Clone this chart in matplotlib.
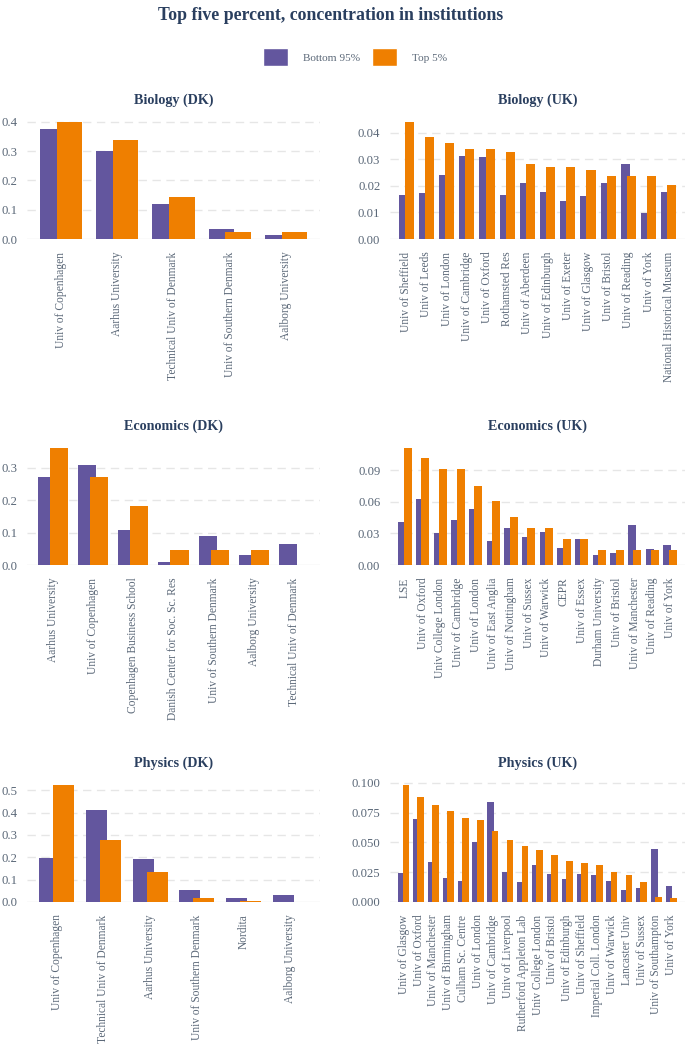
import numpy as np
import matplotlib.pyplot as plt
from matplotlib.patches import Patch

plt.rcParams['font.family'] = ['Liberation Serif', 'DejaVu Serif']

PURPLE = "#63569e"
ORANGE = "#ef7f00"
TITLE_C = "#2a3f5f"
TICK_C = "#5b6878"

bio_dk_names = ["Univ of Copenhagen", "Aarhus University", "Technical Univ of Denmark",
                "Univ of Southern Denmark", "Aalborg University"]
bio_dk_bottom = [0.374, 0.302, 0.121, 0.033, 0.015]
bio_dk_top = [0.400, 0.338, 0.142, 0.024, 0.024]

bio_uk_names = ["Univ of Sheffield", "Univ of Leeds", "Univ of London", "Univ of Cambridge",
                "Univ of Oxford", "Rothamsted Res", "Univ of Aberdeen", "Univ of Edinburgh",
                "Univ of Exeter", "Univ of Glasgow", "Univ of Bristol", "Univ of Reading",
                "Univ of York", "National Historical Museum"]
bio_uk_bottom = [0.0167, 0.0172, 0.0241, 0.0312, 0.0311, 0.0167, 0.0213, 0.0177,
                 0.0143, 0.0163, 0.0213, 0.0284, 0.0098, 0.0178]
bio_uk_top = [0.0442, 0.0385, 0.0362, 0.0340, 0.0340, 0.0328, 0.0282, 0.0272,
              0.0272, 0.0260, 0.0237, 0.0237, 0.0237, 0.0203]

eco_dk_names = ["Aarhus University", "Univ of Copenhagen", "Copenhagen Business School",
                "Danish Center for Soc. Sc. Res", "Univ of Southern Denmark",
                "Aalborg University", "Technical Univ of Denmark"]
eco_dk_bottom = [0.273, 0.309, 0.108, 0.008, 0.090, 0.031, 0.066]
eco_dk_top = [0.362, 0.271, 0.182, 0.045, 0.045, 0.045, 0.0]

eco_uk_names = ["LSE", "Univ of Oxford", "Univ College London", "Univ of Cambridge",
                "Univ of London", "Univ of East Anglia", "Univ of Nottingham", "Univ of Sussex",
                "Univ of Warwick", "CEPR", "Univ of Essex", "Durham University",
                "Univ of Bristol", "Univ of Manchester", "Univ of Reading", "Univ of York"]
eco_uk_bottom = [0.0405, 0.0629, 0.0303, 0.0428, 0.0533, 0.0227, 0.0351, 0.0268,
                 0.0310, 0.0163, 0.0243, 0.0099, 0.0118, 0.0377, 0.0153, 0.0188]
eco_uk_top = [0.1114, 0.1015, 0.0913, 0.0913, 0.0756, 0.0606, 0.0453, 0.0351,
              0.0351, 0.0249, 0.0249, 0.0147, 0.0147, 0.0147, 0.0147, 0.0147]

phy_dk_names = ["Univ of Copenhagen", "Technical Univ of Denmark", "Aarhus University",
                "Univ of Southern Denmark", "Nordita", "Aalborg University"]
phy_dk_bottom = [0.195, 0.413, 0.191, 0.053, 0.018, 0.033]
phy_dk_top = [0.524, 0.278, 0.135, 0.018, 0.006, 0.0]

phy_uk_names = ["Univ of Glasgow", "Univ of Oxford", "Univ of Manchester", "Univ of Birmingham",
                "Culham Sc. Centre", "Univ of London", "Univ of Cambridge", "Univ of Liverpool",
                "Rutherford Appleton Lab", "Univ College London", "Univ of Bristol",
                "Univ of Edinburgh", "Univ of Sheffield", "Imperial Coll. London",
                "Univ of Warwick", "Lancaster Univ", "Univ of Sussex", "Univ of Southampton",
                "Univ of York"]
phy_uk_bottom = [0.0242, 0.0693, 0.0332, 0.0200, 0.0180, 0.0504, 0.0839, 0.0248, 0.0172,
                 0.0313, 0.0239, 0.0194, 0.0231, 0.0223, 0.0177, 0.0101, 0.0118, 0.0448, 0.0135]
phy_uk_top = [0.0983, 0.0885, 0.0811, 0.0766, 0.0701, 0.0687, 0.0592, 0.0521, 0.0468,
              0.0434, 0.0397, 0.0344, 0.0324, 0.0307, 0.0254, 0.0228, 0.0166, 0.0042, 0.0034]

panels = [
    ("Biology (DK)", bio_dk_names, bio_dk_bottom, bio_dk_top, [0, 0.1, 0.2, 0.3, 0.4], "{:.1f}"),
    ("Biology (UK)", bio_uk_names, bio_uk_bottom, bio_uk_top, [0, 0.01, 0.02, 0.03, 0.04], "{:.2f}"),
    ("Economics (DK)", eco_dk_names, eco_dk_bottom, eco_dk_top, [0, 0.1, 0.2, 0.3], "{:.1f}"),
    ("Economics (UK)", eco_uk_names, eco_uk_bottom, eco_uk_top, [0, 0.03, 0.06, 0.09], "{:.2f}"),
    ("Physics (DK)", phy_dk_names, phy_dk_bottom, phy_dk_top, [0, 0.1, 0.2, 0.3, 0.4, 0.5], "{:.1f}"),
    ("Physics (UK)", phy_uk_names, phy_uk_bottom, phy_uk_top, [0, 0.025, 0.05, 0.075, 0.1], "{:.3f}"),
]

W, H = 685, 1046
fig = plt.figure(figsize=(W / 100, H / 100), dpi=100)

# pixel boxes: (left, right) per column, (top, bottom) per row
cols = [(27, 320), (390, 685)]
rows = [(116, 239), (442, 565), (779, 902)]

for idx, (title, names, bottom, top, ticks, fmt) in enumerate(panels):
    r, c = divmod(idx, 2)
    x0, x1 = cols[c]
    y0, y1 = rows[r]
    ax = fig.add_axes([x0 / W, 1 - y1 / H, (x1 - x0) / W, (y1 - y0) / H])
    n = len(names)
    x = np.arange(n)
    ax.bar(x - 0.15, bottom, width=0.45, color=PURPLE, edgecolor="none", zorder=3)
    ax.bar(x + 0.15, top, width=0.45, color=ORANGE, edgecolor="none", zorder=4)
    pad = n * 0.022
    ax.set_xlim(-0.5 - pad, n - 0.5 + pad)
    ax.set_ylim(0, max(max(bottom), max(top)) * 1.05)
    ax.set_yticks(ticks)
    ax.set_yticklabels([fmt.format(t) for t in ticks])
    ax.set_xticks(x)
    ax.set_xticklabels(names, rotation=90)
    ax.tick_params(axis="both", length=0, colors=TICK_C)
    ax.tick_params(axis="x", pad=9, labelsize=8.3)
    ax.tick_params(axis="y", pad=7, labelsize=9.2)
    for s in ax.spines.values():
        s.set_visible(False)
    for t in ticks:
        ax.axhline(t, color="#e6e6e6", linewidth=1.0, linestyle=(0, (6, 4)) if t != 0 else "-", zorder=1)
    ax.set_title(title, fontsize=10.2, fontweight="bold", color=TITLE_C, pad=9)

fig.text(331 / W, 1 - 15 / H, "Top five percent, concentration in institutions", ha="center", va="center",
         fontsize=12.8, fontweight="bold", color=TITLE_C)

handles = [Patch(facecolor=PURPLE, edgecolor="white"), Patch(facecolor=ORANGE, edgecolor="white")]
leg = fig.legend(handles, ["Bottom 95%", "Top 5%"], loc="center", bbox_to_anchor=(355 / W, 1 - 57 / H),
                 ncol=2, frameon=False, fontsize=8.1, handlelength=2.2, handleheight=2.0,
                 handletextpad=1.3, columnspacing=1.1)
for t in leg.get_texts():
    t.set_color(TICK_C)

fig.savefig("out.png", dpi=100, facecolor="white")
